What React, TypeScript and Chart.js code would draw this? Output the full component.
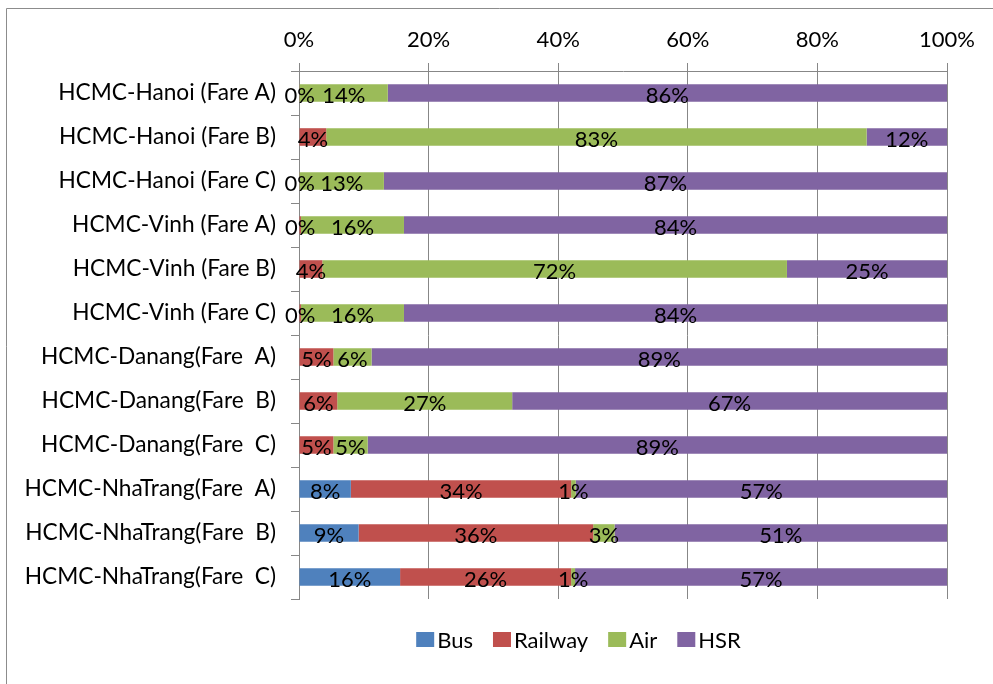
import { useEffect, useRef } from "react";
import { Chart, registerables } from "chart.js";

Chart.register(...registerables);

// Route / fare scenarios, top to bottom
const routes = [
  "HCMC-Hanoi (Fare A)",
  "HCMC-Hanoi (Fare B)",
  "HCMC-Hanoi (Fare C)",
  "HCMC-Vinh (Fare A)",
  "HCMC-Vinh (Fare B)",
  "HCMC-Vinh (Fare C)",
  "HCMC-Danang(Fare  A)",
  "HCMC-Danang(Fare  B)",
  "HCMC-Danang(Fare  C)",
  "HCMC-NhaTrang(Fare  A)",
  "HCMC-NhaTrang(Fare  B)",
  "HCMC-NhaTrang(Fare  C)",
];

// Modal shares (%) per scenario
const bus = [null, null, null, null, null, null, null, null, null, 8.0, 9.2, 15.6];
const railway = [0.1, 4.2, 0.1, 0.3, 3.6, 0.3, 5.3, 5.9, 5.3, 34.0, 36.2, 26.4];
const air = [13.6, 83.4, 13.0, 15.9, 71.7, 15.9, 5.9, 27.0, 5.3, 0.7, 3.3, 0.6];
const hsr = [86.3, 12.4, 86.9, 83.8, 24.7, 83.8, 88.8, 67.1, 89.4, 57.3, 51.3, 57.4];

const modes = ["Bus", "Railway", "Air", "HSR"];
const modeColors = ["#4F81BD", "#C0504D", "#9BBB59", "#8064A2"];
const shareTicks = [0, 20, 40, 60, 80, 100];

const FONT = "Lato";
const FONT_SIZE = 22;
const CATEGORY_FONT_SIZE = 22.7;
const AXIS_GRAY = "#878787";

// White background plus the outer frame lines
const framePlugin = {
  id: "frame",
  beforeDraw(chart: any) {
    const { ctx, width, height } = chart;
    ctx.save();
    ctx.fillStyle = "#ffffff";
    ctx.fillRect(0, 0, width, height);
    ctx.strokeStyle = "#8c8c8c";
    ctx.lineWidth = 1;
    ctx.beginPath();
    ctx.moveTo(6.5, height);
    ctx.lineTo(6.5, 8.5);
    ctx.lineTo(width, 8.5);
    ctx.stroke();
    ctx.restore();
  },
};

// Percentage label centred on every segment
const segmentLabels = {
  id: "segmentLabels",
  afterDatasetsDraw(chart: any) {
    const { ctx } = chart;
    ctx.save();
    ctx.font = `${FONT_SIZE}px ${FONT}`;
    ctx.fillStyle = "#000000";
    ctx.textAlign = "center";
    ctx.textBaseline = "middle";
    chart.data.datasets.forEach((ds: any, di: number) => {
      const meta = chart.getDatasetMeta(di);
      meta.data.forEach((el: any, i: number) => {
        const v = ds.data[i];
        if (v === null || v === undefined) return;
        const cx = (el.x + el.base) / 2;
        ctx.fillText(`${Math.round(v)}%`, cx, el.y + 3);
      });
    });
    ctx.restore();
  },
};

// Legend row under the plot
const bottomLegend = {
  id: "bottomLegend",
  afterDraw(chart: any) {
    const { ctx } = chart;
    const items = chart.data.datasets.map((ds: any) => ({
      label: ds.label as string,
      color: ds.backgroundColor as string,
    }));
    ctx.save();
    ctx.font = `${FONT_SIZE}px ${FONT}`;
    ctx.textBaseline = "middle";
    ctx.textAlign = "left";
    const box = 18;
    const boxH = 15;
    const textGap = 3;
    const itemGap = 20;
    const widths = items.map((it: any) => box + textGap + ctx.measureText(it.label).width);
    const total = widths.reduce((a: number, b: number) => a + b, 0) + itemGap * (items.length - 1);
    let x = 578.5 - total / 2;
    const cy = 639.5;
    items.forEach((it: any, i: number) => {
      ctx.fillStyle = it.color;
      ctx.fillRect(x, cy - boxH / 2, box, boxH);
      ctx.fillStyle = "#000000";
      ctx.fillText(it.label, x + box + textGap, cy + 1);
      x += widths[i] + itemGap;
    });
    ctx.restore();
  },
};

export default function App() {
  const canvasRef = useRef<HTMLCanvasElement | null>(null);

  useEffect(() => {
    if (!canvasRef.current) return;
    const series = [bus, railway, air, hsr];
    const chart = new Chart(canvasRef.current, {
      type: "bar",
      data: {
        labels: routes,
        datasets: modes.map((m, i) => ({
          label: m,
          data: series[i] as any,
          backgroundColor: modeColors[i],
          borderWidth: 0,
          barPercentage: 0.4,
          categoryPercentage: 1,
        })),
      },
      options: {
        indexAxis: "y",
        responsive: false,
        animation: false,
        events: [],
        layout: { padding: { left: 0, top: 0, right: 46, bottom: 85 } },
        plugins: {
          legend: { display: false },
          tooltip: { enabled: false },
        },
        scales: {
          x: {
            position: "top",
            stacked: true,
            min: 0,
            max: 100,
            afterFit: (s: any) => {
              s.height = 71;
            },
            afterBuildTicks: (s: any) => {
              s.ticks = shareTicks.map((v) => ({ value: v }));
            },
            ticks: {
              callback: (v: any) => `${v}%`,
              color: "#000000",
              font: { family: FONT, size: FONT_SIZE },
              padding: 10,
              maxRotation: 0,
            },
            grid: { color: AXIS_GRAY, tickLength: 8, lineWidth: 1 },
            border: { color: AXIS_GRAY },
          },
          y: {
            stacked: true,
            afterFit: (s: any) => {
              s.width = 299;
            },
            ticks: {
              color: "#000000",
              font: { family: FONT, size: CATEGORY_FONT_SIZE },
              padding: 15,
              autoSkip: false,
            },
            grid: {
              drawOnChartArea: false,
              offset: true,
              color: AXIS_GRAY,
              tickLength: 8,
            },
            border: { color: AXIS_GRAY },
          },
        },
      },
      plugins: [framePlugin, segmentLabels, bottomLegend],
    });
    return () => chart.destroy();
  }, []);

  return (
    <div style={{ position: "absolute", left: 0, top: 0, width: 993, height: 684 }}>
      <canvas ref={canvasRef} width={993} height={684} />
    </div>
  );
}
